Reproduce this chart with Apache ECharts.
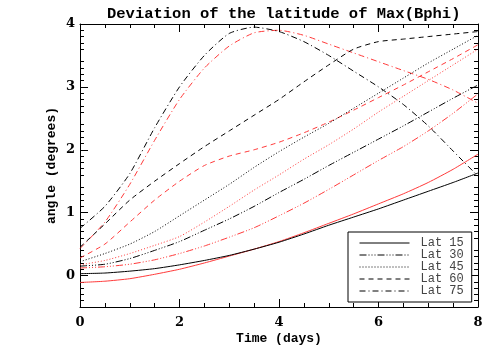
<!DOCTYPE html>
<html>
<head>
<meta charset="utf-8">
<script src="https://cdn.jsdelivr.net/npm/echarts@6/dist/echarts.min.js"></script>
<style>
html,body{margin:0;padding:0;background:#fff;}
#chart{width:499px;height:356px;}
</style>
</head>
<body>
<div id="chart"></div>
<script>
var days = [0,0.5,1,1.5,2,2.5,3,3.5,4,4.5,5,5.5,6,6.5,7,7.5,8];

// black curves
var lat15Black = [0.03,0.04,0.07,0.11,0.17,0.24,0.32,0.42,0.53,0.66,0.80,0.93,1.06,1.20,1.34,1.48,1.63];
var lat30Black = [0.15,0.18,0.27,0.40,0.54,0.72,0.90,1.10,1.32,1.53,1.75,1.96,2.17,2.38,2.60,2.82,3.03];
var lat45Black = [0.22,0.35,0.50,0.70,0.95,1.20,1.45,1.72,1.97,2.20,2.42,2.66,2.90,3.14,3.38,3.60,3.82];
var lat60Black = [0.45,0.82,1.20,1.50,1.78,2.05,2.30,2.55,2.80,3.08,3.35,3.60,3.72,3.76,3.80,3.84,3.88];
var lat75Black = [0.75,1.10,1.62,2.35,3.00,3.50,3.85,3.95,3.88,3.72,3.50,3.25,3.00,2.72,2.38,1.98,1.58];

// red curves
var lat15Red = [-0.11,-0.09,-0.05,0.02,0.10,0.20,0.31,0.42,0.54,0.68,0.83,0.98,1.14,1.30,1.48,1.69,1.93];
var lat30Red = [0.12,0.14,0.18,0.25,0.35,0.47,0.61,0.76,0.95,1.15,1.37,1.60,1.83,2.05,2.30,2.58,2.89];
var lat45Red = [0.17,0.24,0.35,0.48,0.62,0.85,1.10,1.36,1.60,1.85,2.08,2.33,2.60,2.85,3.10,3.35,3.60];
var lat60Red = [0.28,0.50,0.85,1.20,1.50,1.75,1.90,2.00,2.12,2.27,2.44,2.63,2.83,3.03,3.24,3.45,3.67];
var lat75Red = [0.43,0.85,1.45,2.15,2.80,3.30,3.65,3.86,3.90,3.82,3.68,3.54,3.40,3.26,3.12,2.95,2.74];

var legendNames = ['Lat 15','Lat 30','Lat 45','Lat 60','Lat 75'];
var yLabels = [0,1,2,3,4];

var dashes = ['solid',[7,2,1,2,1,2,1,2],[1,2],[5,4],[6,3,1,3]];

function pairs(vals){
  return vals.map(function(v,i){ return [days[i], v]; });
}
function mk(name, vals, color, dash){
  return {
    name: name,
    type: 'line',
    data: pairs(vals),
    symbol: 'none',
    smooth: 0.2,
    lineStyle: {color: color, width: 1, type: dash},
    itemStyle: {color: color},
    z: color == '#000' ? 3 : 2
  };
}

var blacks = [lat15Black, lat30Black, lat45Black, lat60Black, lat75Black];
var reds = [lat15Red, lat30Red, lat45Red, lat60Red, lat75Red];
var series = [];
for (var i = 0; i < 5; i++) {
  series.push(mk(legendNames[i] + ' red', reds[i], '#ff3a3a', dashes[i]));
}
for (var i = 0; i < 5; i++) {
  series.push(mk(legendNames[i], blacks[i], '#000', dashes[i]));
}

var labelFont = {fontFamily: 'DejaVu Serif', fontWeight: 'bold', fontSize: 13, color: '#000'};
var axisLineStyle = {onZero: false, lineStyle: {color: '#000', width: 1}};

function xAx(pos, showLabels){
  return {
    type: 'value', position: pos, min: 0, max: 8, interval: 2,
    axisLine: axisLineStyle,
    axisTick: {inside: true, length: 8, lineStyle: {color: '#000'}},
    minorTick: {show: true, splitNumber: 4, length: 4, lineStyle: {color: '#000'}},
    splitLine: {show: false},
    axisLabel: Object.assign({show: showLabels, margin: 9}, labelFont),
    name: showLabels ? 'Time (days)' : '',
    nameLocation: 'middle', nameGap: 25, nameMoveOverlap: false,
    nameTextStyle: {fontFamily: 'Liberation Mono', fontWeight: 'bold', fontSize: 13, color: '#000'}
  };
}
function yAx(pos, showLabels){
  return {
    type: 'value', position: pos, min: -0.5, max: 4, interval: 0.5,
    axisLine: axisLineStyle,
    axisTick: {inside: true, length: 8, customValues: yLabels, lineStyle: {color: '#000'}},
    minorTick: {show: true, splitNumber: 5, length: 4, lineStyle: {color: '#000'}},
    splitLine: {show: false},
    axisLabel: Object.assign({show: showLabels, margin: 5, customValues: yLabels}, labelFont),
    name: showLabels ? 'angle (degrees)' : '',
    nameLocation: 'middle', nameGap: 22, nameMoveOverlap: false,
    nameTextStyle: {fontFamily: 'Liberation Mono', fontWeight: 'bold', fontSize: 13, color: '#000'}
  };
}

var chart = echarts.init(document.getElementById('chart'), null, {renderer: 'canvas'});
chart.setOption({
  backgroundColor: '#fff',
  animation: false,
  title: {
    text: 'Deviation of the latitude of Max(Bphi)',
    left: 102, top: 1,
    textStyle: {fontFamily: 'Liberation Mono', fontWeight: 'bold', fontSize: 15.5, color: '#000'}
  },
  grid: {left: 80, right: 21, top: 24, bottom: 49, containLabel: false},
  xAxis: [xAx('bottom', true), xAx('top', false)],
  yAxis: [yAx('left', true), yAx('right', false)],
  legend: {
    data: legendNames,
    orient: 'vertical',
    left: 348, top: 232,
    backgroundColor: '#fff',
    borderColor: '#000', borderWidth: 1, borderRadius: 0,
    padding: [5, 8, 5, 11],
    itemGap: 0,
    itemWidth: 50, itemHeight: 8,
    itemStyle: {opacity: 0},
    lineStyle: {width: 1},
    textStyle: {fontFamily: 'Liberation Mono', fontSize: 12, color: '#444', padding: [0, 0, 0, 6]}
  },
  series: series
});
</script>
</body>
</html>
